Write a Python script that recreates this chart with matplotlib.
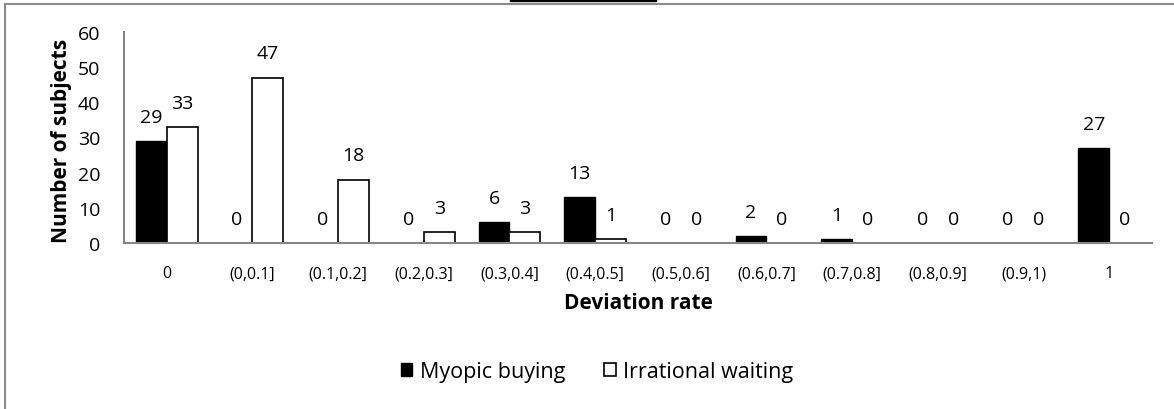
import matplotlib.pyplot as plt
import numpy as np
from matplotlib.lines import Line2D
from matplotlib.patches import Rectangle

categories = ["0", "(0,0.1]", "(0.1,0.2]", "(0.2,0.3]", "(0.3,0.4]", "(0.4,0.5]",
              "(0.5,0.6]", "(0.6,0.7]", "(0.7,0.8]", "(0.8,0.9]", "(0.9,1)", "1"]
myopic_buying = [29, 0, 0, 0, 6, 13, 0, 2, 1, 0, 0, 27]
irrational_waiting = [33, 47, 18, 3, 3, 1, 0, 0, 0, 0, 0, 0]
y_ticks = [0, 10, 20, 30, 40, 50, 60]

plt.rcParams['font.family'] = ['Open Sans', 'DejaVu Sans']

W, H = 1174, 410
fig = plt.figure(figsize=(W / 100, H / 100), dpi=100)
ax = fig.add_axes([124 / W, (H - 244) / H, (1152 - 124) / W, (244 - 33) / H])

x = np.arange(len(categories))
width = 0.36
b1 = ax.bar(x - width / 2, myopic_buying, width, color='black',
            edgecolor='black', linewidth=1.0, label='Myopic buying')
b2 = ax.bar(x + width / 2, irrational_waiting, width, color='white',
            edgecolor='black', linewidth=1.2, label='Irrational waiting')

for bars, vals in ((b1, myopic_buying), (b2, irrational_waiting)):
    for bar, v in zip(bars, vals):
        ax.annotate(str(v), (bar.get_x() + bar.get_width() / 2, v),
                    xytext=(0, 17.5), textcoords='offset points',
                    ha='center', va='center', fontsize=14)

ax.set_xlim(-0.5, len(categories) - 0.5)
ax.set_ylim(0, 60)
ax.set_yticks(y_ticks)
ax.set_xticks(x)
ax.set_xticklabels(categories, fontsize=11.5)
ax.tick_params(axis='x', length=0, pad=16)
ax.tick_params(axis='y', length=0, pad=17, labelsize=14)

for s in ('top', 'right'):
    ax.spines[s].set_visible(False)
for s in ('left', 'bottom'):
    ax.spines[s].set_color('#868686')
    ax.spines[s].set_linewidth(1.5)

fig.text(638 / W, 1 - 304 / H, 'Deviation rate', ha='center', va='center',
         fontsize=15, fontweight='bold')
fig.text(62 / W, 1 - 141 / H, 'Number of subjects', ha='center', va='center',
         rotation=90, fontsize=15, fontweight='bold')

fig.legend(handles=[b1, b2], loc='center', bbox_to_anchor=(597 / W, 1 - 373 / H),
           ncol=2, frameon=False, fontsize=15.5, handlelength=0.55, handleheight=0.55,
           handletextpad=0.35, columnspacing=1.8)

# outer frame pieces and top marker
fig.add_artist(Line2D([5 / W, 1], [1 - 5 / H, 1 - 5 / H], color='#8c8c8c', lw=1.5))
fig.add_artist(Line2D([5 / W, 5 / W], [0, 1 - 5 / H], color='#8c8c8c', lw=1.5))
fig.add_artist(Rectangle((510 / W, 1 - 2 / H), 146 / W, 2 / H,
                         transform=fig.transFigure, color='black'))

plt.savefig('out.png', dpi=100)
